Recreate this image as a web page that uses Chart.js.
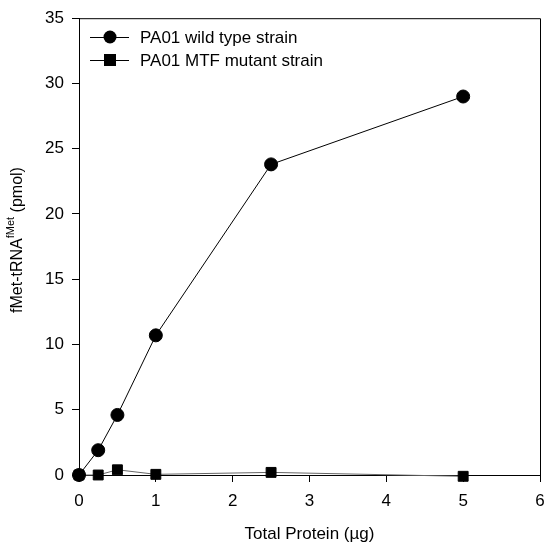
<!DOCTYPE html>
<html>
<head>
<meta charset="utf-8">
<script src="https://cdn.jsdelivr.net/npm/chart.js@4.4.1/dist/chart.umd.min.js"></script>
<style>
  html, body { margin: 0; padding: 0; background: #fff; }
  #wrap { width: 544px; height: 547px; }
</style>
</head>
<body>
<div id="wrap"><canvas id="plot"></canvas></div>
<script>
// datos
let proteina = [0, 0.25, 0.5, 1, 2.5, 5];
let silvestre = [0, 1.9, 4.6, 10.7, 23.8, 29.0];
let mutante = [0, 0.0, 0.4, 0.05, 0.2, -0.1];
let nombres = ['PA01 wild type strain', 'PA01 MTF mutant strain'];
let ticksX = [0, 1, 2, 3, 4, 5, 6];
let ticksY = [0, 5, 10, 15, 20, 25, 30, 35];

let fuente = 'Liberation Sans, Arial, sans-serif';

let puntos = (ys) => proteina.map((x, i) => ({x: x, y: ys[i]}));

// marco superior y derecho, titulo del eje y y leyenda dentro del grafico
let extras = {
  id: 'extras',
  afterDraw(chart) {
    let ctx = chart.ctx;
    let a = chart.chartArea;
    ctx.save();
    ctx.strokeStyle = '#000';
    ctx.lineWidth = 1;
    ctx.beginPath();
    ctx.moveTo(a.left, a.top + 0.5);
    ctx.lineTo(a.right + 0.5, a.top + 0.5);
    ctx.lineTo(a.right + 0.5, a.bottom);
    ctx.stroke();

    // titulo del eje y con superindice
    ctx.translate(18, 240);
    ctx.rotate(-Math.PI / 2);
    ctx.fillStyle = '#000';
    ctx.textBaseline = 'middle';
    let p1 = 'fMet-tRNA', p2 = 'fMet', p3 = ' (pmol)';
    ctx.font = '16px ' + fuente;
    let w1 = ctx.measureText(p1).width, w3 = ctx.measureText(p3).width;
    ctx.font = '11px ' + fuente;
    let w2 = ctx.measureText(p2).width;
    let x0 = -(w1 + w2 + w3) / 2;
    ctx.font = '16px ' + fuente;
    ctx.textAlign = 'left';
    ctx.fillText(p1, x0, 0);
    ctx.font = '11px ' + fuente;
    ctx.fillText(p2, x0 + w1, -7);
    ctx.font = '16px ' + fuente;
    ctx.fillText(p3, x0 + w1 + w2, 0);
    ctx.restore();

    // leyenda
    ctx.save();
    chart.data.datasets.forEach((ds, i) => {
      let y = 37 + i * 23;
      ctx.strokeStyle = '#000';
      ctx.lineWidth = 1;
      ctx.beginPath();
      ctx.moveTo(90, y + 0.5);
      ctx.lineTo(129, y + 0.5);
      ctx.stroke();
      ctx.fillStyle = '#000';
      if (ds.pointStyle === 'circle') {
        ctx.beginPath();
        ctx.arc(110, y, 6.5, 0, Math.PI * 2);
        ctx.fill();
      } else {
        ctx.fillRect(104, y - 6, 12, 12);
      }
      ctx.font = '17px ' + fuente;
      ctx.textBaseline = 'middle';
      ctx.textAlign = 'left';
      ctx.fillText(ds.label, 140, y + 1);
    });
    ctx.restore();
  }
};

let config = {
  type: 'line',
  data: {
    datasets: [
      {
        label: nombres[0],
        data: puntos(silvestre),
        borderColor: '#000',
        backgroundColor: '#000',
        borderWidth: 1,
        pointStyle: 'circle',
        pointRadius: 6.5,
        pointHoverRadius: 6.5,
        clip: false
      },
      {
        label: nombres[1],
        data: puntos(mutante),
        borderColor: '#666',
        backgroundColor: '#000',
        pointBorderColor: '#000',
        borderWidth: 1,
        pointStyle: 'rect',
        pointRadius: 7,
        pointHoverRadius: 7,
        clip: false
      }
    ]
  },
  options: {
    responsive: true,
    maintainAspectRatio: false,
    animation: false,
    events: [],
    layout: { autoPadding: false, padding: { top: 18, right: 4, left: 0, bottom: 0 } },
    plugins: {
      legend: { display: false },
      tooltip: { enabled: false }
    },
    scales: {
      x: {
        type: 'linear',
        min: 0,
        max: 6,
        afterBuildTicks: (s) => { s.ticks = ticksX.map(v => ({value: v})); },
        afterFit: (s) => { s.height = 72; s.paddingRight = 0; s.paddingLeft = 0; },
        ticks: { color: '#000', font: { family: fuente, size: 17 }, padding: 9 },
        grid: { drawOnChartArea: false, drawTicks: true, tickLength: 7, color: '#000' },
        border: { color: '#000', width: 1 },
        title: {
          display: true,
          text: 'Total Protein (\u00b5g)',
          color: '#000',
          font: { family: fuente, size: 17 },
          padding: { top: 10, bottom: 2 }
        }
      },
      y: {
        type: 'linear',
        min: 0,
        max: 35,
        afterBuildTicks: (s) => { s.ticks = ticksY.map(v => ({value: v})); },
        afterFit: (s) => { s.width = 79; },
        ticks: { color: '#000', font: { family: fuente, size: 17 }, padding: 8 },
        grid: { drawOnChartArea: false, drawTicks: true, tickLength: 7, color: '#000' },
        border: { color: '#000', width: 1 }
      }
    }
  },
  plugins: [extras]
};

let chart1 = new Chart(document.getElementById('plot'), config);
</script>
</body>
</html>
